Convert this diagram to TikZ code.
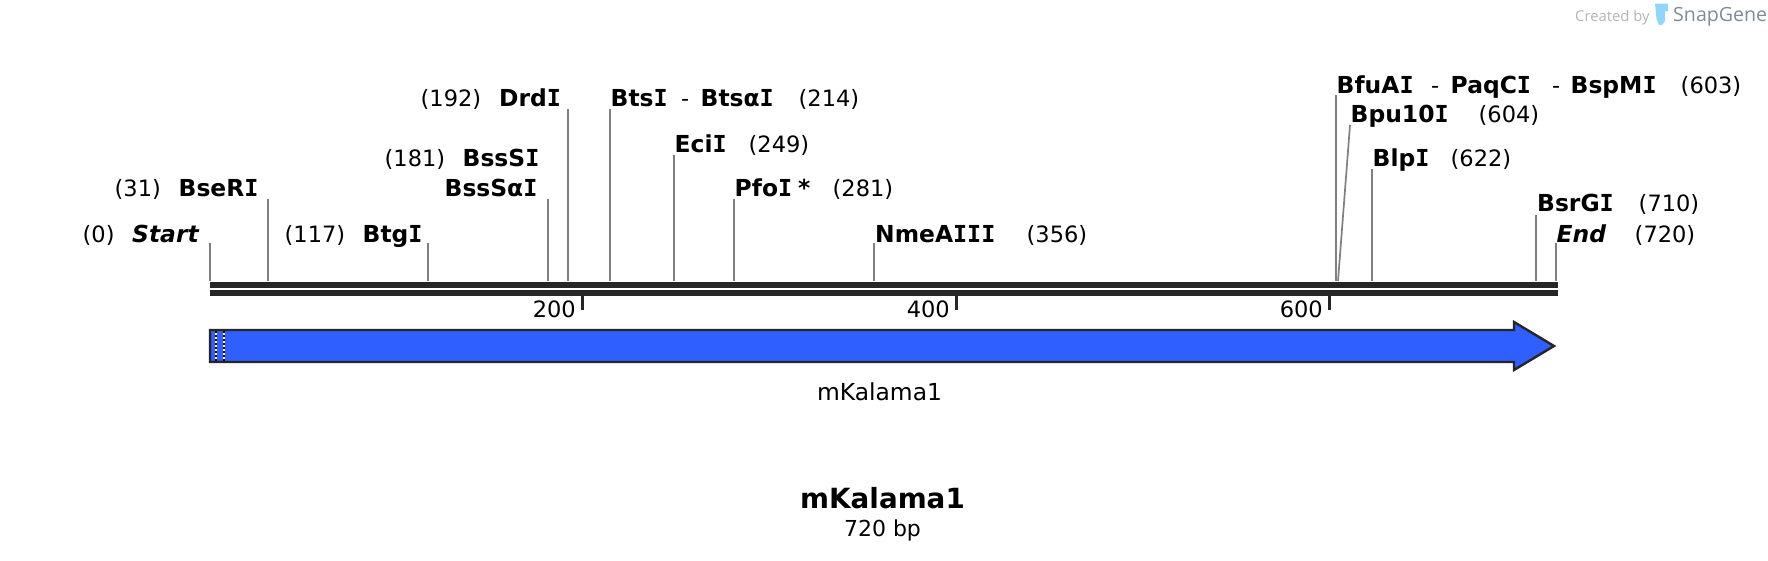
\documentclass[tikz,border=0pt]{standalone}
\usepackage{fontspec}
\setmainfont{DejaVu Sans}
\newfontfamily\monoi{DejaVu Sans Mono}
\newfontfamily\wmfont{Open Sans}
\newcommand{\Ib}{{\monoi\bfseries I}}
\definecolor{barcol}{HTML}{262626}
\definecolor{leadcol}{HTML}{808080}
\definecolor{genecol}{HTML}{2F5FFF}
\definecolor{wmgray}{HTML}{B4B4B4}
\definecolor{wmblue}{HTML}{7F8B97}
\definecolor{tubecol}{HTML}{8FD6FA}
\tikzset{
  x=1pt,y=-1pt,
  enz/.style={anchor=base west,inner sep=0pt,font=\fontsize{23.4}{24}\selectfont\bfseries},
  enzit/.style={enz,font=\fontsize{23.4}{24}\selectfont\bfseries\itshape},
  poslab/.style={anchor=base west,inner sep=0pt,font=\fontsize{22.5}{23}\selectfont},
  leader/.style={draw=leadcol,line width=1.7pt},
  barline/.style={fill=barcol,draw=none},
  ticklin/.style={draw=barcol,line width=3pt},
  ticklab/.style={anchor=base east,inner sep=0pt,font=\fontsize{22.5}{23}\selectfont},
}
\begin{document}
\begin{tikzpicture}
\useasboundingbox (0,0) rectangle (1768,560);
% backbone
\fill[barline] (210,282) rectangle (1558,288);
\fill[barline] (210,290) rectangle (1558,296);
% leaders
\foreach \nm/\xb/\xt/\yt in {start/210/210/243,bse/268/268/199,btg/428/428/243,bss/548/548/199,drd/568/568/109,bts/610/610/109,eci/674/674/155,pfo/734/734/199,nme/874/874/243,bfu/1336/1336/95,bpu/1338/1350/125,blp/1372/1372/169,bsr/1536/1536/215,fin/1556/1556/243}{
  \coordinate (\nm-base) at (\xb,281);
  \coordinate (\nm-top) at (\xt,\yt);
  \draw[leader] (\nm-base) -- (\nm-top);
}
% labels
\node[poslab] (p0) at (82.5,242) {(0)};
\node[enzit] (n0) at (132,242) {Start};
\node[poslab] (p31) at (114.5,196) {(31)};
\node[enz] (n31) at (178.5,196) {BseR\Ib};
\node[poslab] (p117) at (284.5,242) {(117)};
\node[enz] (n117) at (362.5,242) {Btg\Ib};
\node[poslab] (p181) at (384.5,166) {(181)};
\node[enz] (n181a) at (462.5,166) {BssS\Ib};
\node[enz] (n181b) at (444.5,196) {BssSα\Ib};
\node[poslab] (p192) at (420.5,106) {(192)};
\node[enz] (n192) at (499,106) {Drd\Ib};
\node[enz] (n214a) at (610.5,106) {Bts\Ib};
\node[poslab] (d214) at (681,106) {-};
\node[enz] (n214b) at (700.5,106) {Btsα\Ib};
\node[poslab] (p214) at (798.5,106) {(214)};
\node[enz] (n249) at (674.5,152) {Eci\Ib};
\node[poslab] (p249) at (748.5,152) {(249)};
\node[enz] (n281) at (734.5,196) {Pfo\Ib};
\node[enz] (s281) at (798,196) {*};
\node[poslab] (p281) at (832.5,196) {(281)};
\node[enz] (n356) at (875,242) {NmeA\Ib\Ib\Ib};
\node[poslab] (p356) at (1026.5,242) {(356)};
\node[enz] (n603a) at (1336.5,93) {BfuA\Ib};
\node[poslab] (d603a) at (1431,93) {-};
\node[enz] (n603b) at (1450.5,93) {PaqC\Ib};
\node[poslab] (d603b) at (1552,93) {-};
\node[enz] (n603c) at (1570.5,93) {BspM\Ib};
\node[poslab] (p603) at (1680.5,93) {(603)};
\node[enz] (n604) at (1350.5,122) {Bpu10\Ib};
\node[poslab] (p604) at (1478.5,122) {(604)};
\node[enz] (n622) at (1372.5,166) {Blp\Ib};
\node[poslab] (p622) at (1450.5,166) {(622)};
\node[enz] (n710) at (1537,211) {BsrG\Ib};
\node[poslab] (p710) at (1638.5,211) {(710)};
\node[enzit] (n720) at (1556.5,242) {End};
\node[poslab] (p720) at (1634.5,242) {(720)};
% ticks
\foreach \nm/\xx/\xl/\txt in {t200/582/576/200,t400/956/950/400,t600/1329.5/1323/600}{
  \coordinate (\nm-a) at (\xx,296);
  \coordinate (\nm-b) at (\xx,310);
  \draw[ticklin] (\nm-a) -- (\nm-b);
  \node[ticklab] (\nm-lab) at (\xl,317) {\txt};
}
% gene arrow
\draw[fill=genecol,draw=barcol,line width=2.4pt,miter limit=10]
  (210,330) -- (1514,330) -- (1514,322) -- (1554,346) -- (1514,370) -- (1514,362) -- (210,362) -- cycle;
\draw[white,line width=2pt] (216,331) -- (216,361);
\draw[black,line width=2pt,dash pattern=on 2pt off 2pt] (216,331) -- (216,361);
\draw[white,line width=2pt] (224,331) -- (224,361);
\draw[black,line width=2pt,dash pattern=on 2pt off 2pt] (224,331) -- (224,361);
\node[anchor=base,inner sep=0pt,font=\fontsize{23.4}{24}\selectfont] (gene) at (879.5,400) {mKalama1};
\node[anchor=base,inner sep=0pt,font=\fontsize{27.8}{28}\selectfont\bfseries] (title) at (882.5,508) {mKalama1};
\node[anchor=base,inner sep=0pt,font=\fontsize{22}{22}\selectfont] (size) at (882.5,536) {720 bp};
% watermark
\node[anchor=base west,inner sep=0pt,text=wmgray,font=\wmfont\fontsize{14.8}{15}\selectfont] (wm1) at (1575,21) {Created by};
\fill[tubecol] (1655,3.5) -- (1668,3.5) -- (1668,11) -- (1665,11) -- (1665,21) -- (1662,25) -- (1659,25) -- (1656.5,19) -- cycle;
\node[anchor=base west,inner sep=0pt,text=wmblue,font=\wmfont\fontsize{19.6}{20}\selectfont] (wm2) at (1673,21) {SnapGene};
\end{tikzpicture}
\end{document}
